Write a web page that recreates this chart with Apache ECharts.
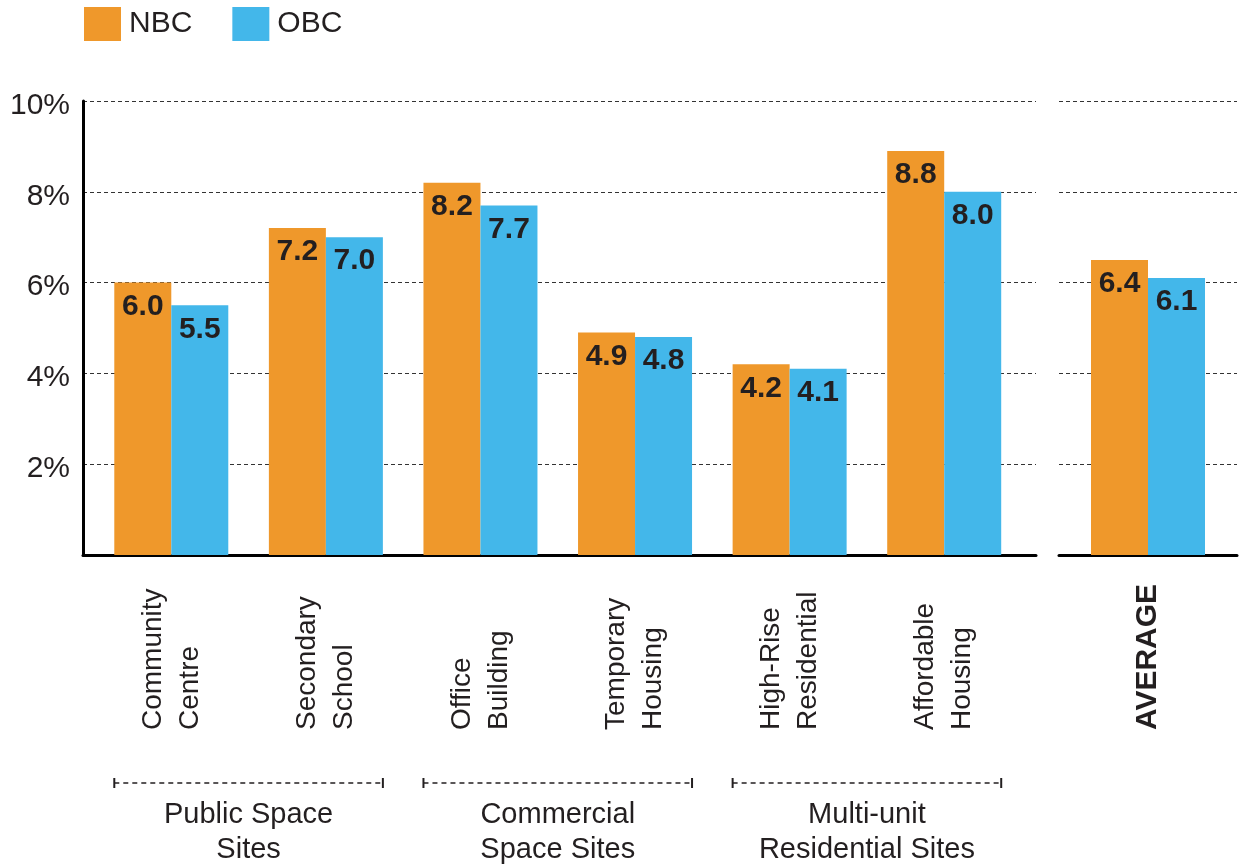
<!DOCTYPE html>
<html>
<head>
<meta charset="utf-8">
<script src="https://cdn.jsdelivr.net/npm/echarts@6/dist/echarts.min.js"></script>
<style>
  html, body { margin: 0; padding: 0; background: #ffffff; }
  #chart { width: 1241px; height: 867px; }
</style>
</head>
<body>
<div id="chart"></div>
<script>
// ---- Data ----
const categories = [
  'Community\nCentre',
  'Secondary\nSchool',
  'Office\nBuilding',
  'Temporary\nHousing',
  'High-Rise\nResidential',
  'Affordable\nHousing'
];
const groups = ['Public Space\nSites', 'Commercial\nSpace Sites', 'Multi-unit\nResidential Sites'];
const groupRanges = [[0, 1], [2, 3], [4, 5]];
const nbcValues = [6.0, 7.2, 8.2, 4.9, 4.2, 8.9];
const obcValues = [5.5, 7.0, 7.7, 4.8, 4.1, 8.0];
const nbcLabels = ['6.0', '7.2', '8.2', '4.9', '4.2', '8.8'];
const obcLabels = ['5.5', '7.0', '7.7', '4.8', '4.1', '8.0'];
const avgCategory = ['AVERAGE'];
const nbcAvg = [6.5];
const obcAvg = [6.1];
const nbcAvgLabels = ['6.4'];
const obcAvgLabels = ['6.1'];
const yTicks = [0, 2, 4, 6, 8, 10];

// ---- Styles ----
const ORANGE = '#EF982B';
const BLUE = '#43B7EA';
const TEXT = '#231f20';
const FONT = '"Liberation Sans", Arial, Helvetica, sans-serif';
const BAR_W = 57;

const chart = echarts.init(document.getElementById('chart'), null, { renderer: 'canvas' });

const splitLine = { show: true, lineStyle: { color: '#333', width: 1.2, type: [4, 3] } };
const valLabel = (arr) => ({
  show: true, position: 'insideTop', distance: 9,
  formatter: (p) => arr[p.dataIndex],
  fontFamily: FONT, fontSize: 30, fontWeight: 'bold', color: TEXT
});

const option = {
  animation: false,
  backgroundColor: '#ffffff',
  legend: {
    data: ['NBC', 'OBC'],
    left: 79, top: 2,
    icon: 'rect', itemWidth: 37, itemHeight: 34, itemGap: 40,
    textStyle: { fontFamily: FONT, fontSize: 30, color: TEXT, padding: [0, 0, 0, 3] }
  },
  grid: [
    { left: 83, top: 101, width: 953, height: 454 },   // background frame of main chart
    { left: 94, top: 101, width: 927.5, height: 454 }, // bars of main chart
    { left: 1059, top: 101, width: 178, height: 454 }  // average
  ],
  xAxis: [
    { type: 'value', gridIndex: 0, min: 0, max: 1,
      axisLine: { show: true, onZero: false, lineStyle: { color: '#000', width: 3 } },
      axisTick: { show: false }, axisLabel: { show: false }, splitLine: { show: false } },
    { type: 'category', gridIndex: 1, data: categories, position: 'bottom',
      axisLine: { show: false }, axisTick: { show: false },
      axisLabel: { interval: 0, rotate: 90, align: 'left', verticalAlign: 'middle', margin: 175,
        fontFamily: FONT, fontSize: 28, lineHeight: 37, color: TEXT } },
    { type: 'category', gridIndex: 1, data: groups, position: 'bottom',
      axisLine: { show: false }, axisTick: { show: false },
      axisLabel: { interval: 0, margin: 242, fontFamily: FONT, fontSize: 29, lineHeight: 35,
        color: TEXT, align: 'center', verticalAlign: 'top' } },
    { type: 'category', gridIndex: 2, data: avgCategory, position: 'bottom',
      axisLine: { show: true, lineStyle: { color: '#000', width: 3 } }, axisTick: { show: false },
      axisLabel: { interval: 0, rotate: 90, align: 'left', verticalAlign: 'middle', margin: 175,
        fontFamily: FONT, fontSize: 30, fontWeight: 'bold', color: TEXT } }
  ],
  yAxis: [
    { type: 'value', gridIndex: 0, min: 0, max: 10, interval: 2,
      axisLine: { show: true, lineStyle: { color: '#000', width: 3 } },
      axisTick: { show: false },
      axisLabel: { margin: 13, color: TEXT,
        formatter: (v) => (yTicks.indexOf(v) > 0 ? '{t|' + v + '%}' : ''),
        rich: { t: { fontFamily: FONT, fontSize: 30, color: TEXT, padding: [9, 0, 0, 0] } } },
      splitLine: splitLine },
    { type: 'value', gridIndex: 1, min: 0, max: 10, interval: 2, show: false, splitLine: { show: false } },
    { type: 'value', gridIndex: 2, min: 0, max: 10, interval: 2,
      axisLine: { show: false }, axisTick: { show: false }, axisLabel: { show: false },
      splitLine: splitLine }
  ],
  series: [
    { name: 'NBC', type: 'bar', xAxisIndex: 1, yAxisIndex: 1, data: nbcValues,
      barWidth: BAR_W, barGap: '0%', itemStyle: { color: ORANGE }, label: valLabel(nbcLabels) },
    { name: 'OBC', type: 'bar', xAxisIndex: 1, yAxisIndex: 1, data: obcValues,
      barWidth: BAR_W, barGap: '0%', itemStyle: { color: BLUE }, label: valLabel(obcLabels) },
    { name: 'NBC', type: 'bar', xAxisIndex: 3, yAxisIndex: 2, data: nbcAvg,
      barWidth: BAR_W, barGap: '0%', itemStyle: { color: ORANGE }, label: valLabel(nbcAvgLabels) },
    { name: 'OBC', type: 'bar', xAxisIndex: 3, yAxisIndex: 2, data: obcAvg,
      barWidth: BAR_W, barGap: '0%', itemStyle: { color: BLUE }, label: valLabel(obcAvgLabels) }
  ]
};
chart.setOption(option);

// ---- Group brackets, positioned from the category axis ----
const baseY = chart.convertToPixel({ yAxisIndex: 1 }, 0);
const bracketY = baseY + 228;
const graphics = [];
groupRanges.forEach(([a, b]) => {
  const x1 = chart.convertToPixel({ xAxisIndex: 1 }, categories[a]) - BAR_W;
  const x2 = chart.convertToPixel({ xAxisIndex: 1 }, categories[b]) + BAR_W;
  graphics.push({ type: 'line', shape: { x1: x1, y1: bracketY, x2: x2, y2: bracketY },
    style: { stroke: '#231f20', lineWidth: 1.5, lineDash: [5, 4] } });
  graphics.push({ type: 'line', shape: { x1: x1, y1: bracketY - 5, x2: x1, y2: bracketY + 5 },
    style: { stroke: '#231f20', lineWidth: 2 } });
  graphics.push({ type: 'line', shape: { x1: x2, y1: bracketY - 5, x2: x2, y2: bracketY + 5 },
    style: { stroke: '#231f20', lineWidth: 2 } });
});
chart.setOption({ graphic: graphics });
</script>
</body>
</html>
